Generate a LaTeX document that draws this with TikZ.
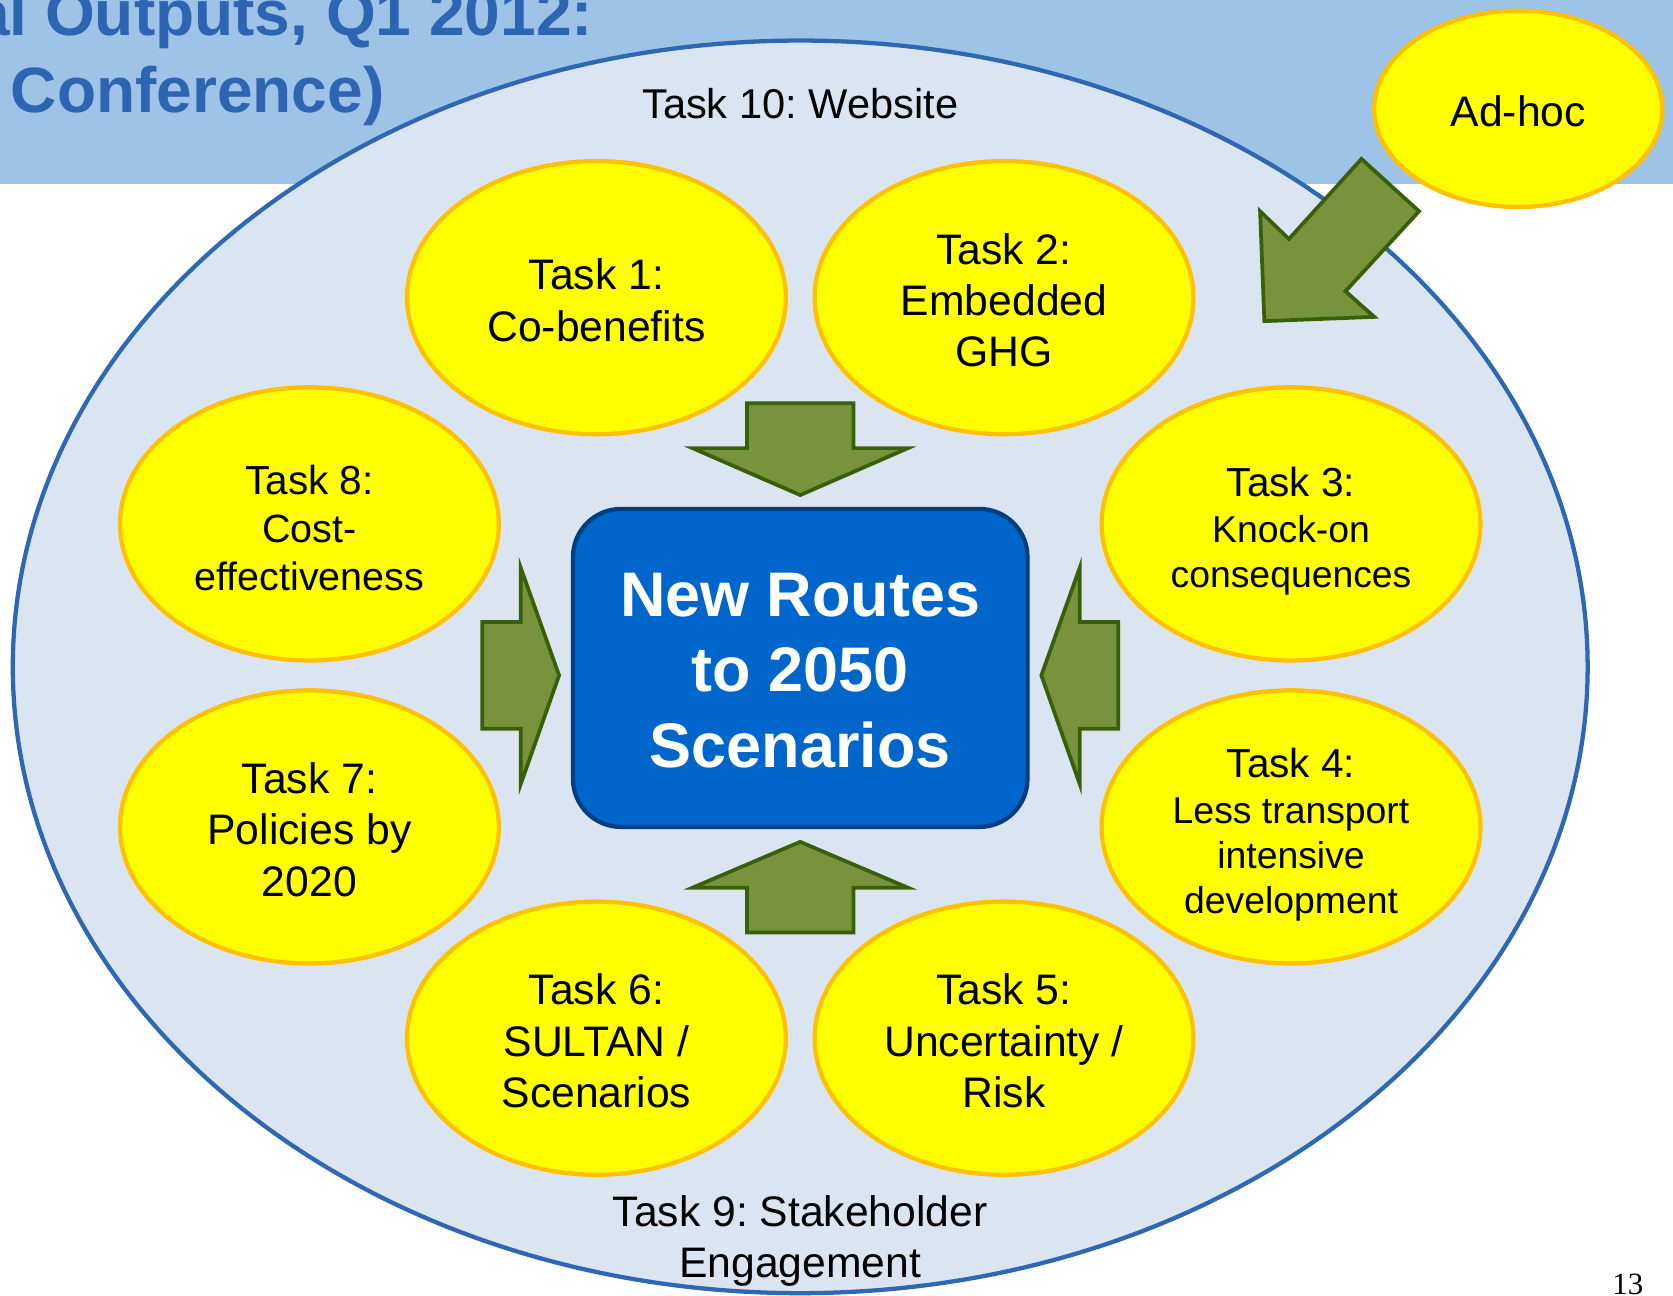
\documentclass[tikz,border=0pt]{standalone}
\usepackage{fontspec}
\setmainfont{Liberation Sans}
\newfontfamily\pagenumfont{Liberation Serif}
\usetikzlibrary{shapes.geometric}
\frenchspacing
\definecolor{bandblue}{RGB}{157,195,230}
\definecolor{titleblue}{RGB}{46,101,178}
\definecolor{outerfill}{RGB}{219,229,241}
\definecolor{outerline}{RGB}{46,103,178}
\definecolor{taskyellow}{RGB}{255,255,0}
\definecolor{taskorange}{RGB}{255,192,0}
\definecolor{arrowgreen}{RGB}{119,147,60}
\definecolor{arrowline}{RGB}{56,96,10}
\definecolor{boxblue}{RGB}{0,102,204}
\definecolor{boxline}{RGB}{0,62,128}
\begin{document}
\begin{tikzpicture}[x=1pt,y=-1pt,
  task/.style={ellipse, draw=taskorange, fill=taskyellow, line width=4pt,
    minimum width=355pt, minimum height=256pt, inner sep=0pt},
  tasklabel/.style={inner sep=0pt, align=center, yshift=-2.5pt,
    font=\fontsize{40}{48}\selectfont},
  blockarrow/.style={fill=arrowgreen, draw=arrowline, line width=3.5pt, line join=miter},
  titletext/.style={inner sep=0pt, text=titleblue, font=\fontsize{60}{72}\selectfont\bfseries},
  plaintext/.style={inner sep=0pt, align=center, font=\fontsize{39}{48}\selectfont}]
\useasboundingbox (0,0) rectangle (1568,1214);
\clip (0,0) rectangle (1568,1214);
% header band and title
\fill[bandblue] (0,0) rectangle (1568,172);
\node[titletext, anchor=base east] (title1) at (556,33) {al Outputs, Q1 2012:};
\node[titletext, anchor=base west] (title2) at (10,105) {Conference)};
% outer ellipse
\node[ellipse, draw=outerline, fill=outerfill, line width=4pt, inner sep=0pt,
  minimum width=1476pt, minimum height=1174pt] (outer) at (750,625) {};
\node[plaintext, anchor=base] (t10) at (750,111) {Task 10: Website};
\node[plaintext, font=\fontsize{40}{48}\selectfont] (t9) at (750,1163) {Task 9: Stakeholder\\Engagement};
% task ellipses
\node[task] (t1) at (559,279) {};
\node[tasklabel] (t1text) at (t1) {Task 1:\\Co-benefits};
\node[task] (t2) at (941,279) {};
\node[tasklabel] (t2text) at (t2) {Task 2:\\Embedded\\GHG};
\node[task] (t8) at (290,491) {};
\node[tasklabel, yshift=-1pt, font=\fontsize{37}{45}\selectfont] (t8text) at (t8) {{\fontsize{38}{45}\selectfont Task 8:}\\Cost-\\effectiveness};
\node[task] (t3) at (1210,491) {};
\node[tasklabel, yshift=-4.5pt, font=\fontsize{35}{42.5}\selectfont] (t3text) at (t3) {{\fontsize{38}{44}\selectfont Task 3:}\\Knock-on\\consequences};
\node[task] (t7) at (290,775) {};
\node[tasklabel] (t7text) at (t7) {Task 7:\\Policies by\\2020};
\node[task] (t4) at (1210,775) {};
\node[tasklabel, yshift=-5pt, font=\fontsize{35}{42.5}\selectfont] (t4text) at (t4) {{\fontsize{38}{44}\selectfont Task 4:}\\Less transport\\intensive\\development};
\node[task] (t6) at (559,973) {};
\node[tasklabel] (t6text) at (t6) {Task 6:\\SULTAN /\\Scenarios};
\node[task] (t5) at (941,973) {};
\node[tasklabel] (t5text) at (t5) {Task 5:\\Uncertainty /\\Risk};
% block arrows towards the centre
\draw[blockarrow] (700,378) -- (800,378) -- (800,420) -- (851,420) -- (750,464) -- (649,420) -- (700,420) -- cycle;
\draw[blockarrow] (700,874) -- (800,874) -- (800,832) -- (851,832) -- (750,789) -- (649,832) -- (700,832) -- cycle;
\draw[blockarrow] (452,583) -- (488,583) -- (488,532) -- (524,633) -- (488,735) -- (488,683) -- (452,683) -- cycle;
\draw[blockarrow] (1048,583) -- (1012,583) -- (1012,532) -- (976,633) -- (1012,735) -- (1012,683) -- (1048,683) -- cycle;
% central box
\node[draw=boxline, fill=boxblue, line width=4pt, rounded corners=45pt,
  minimum width=426pt, minimum height=298pt, inner sep=0pt, align=center,
  text=white, font=\fontsize{59}{71}\selectfont\bfseries] (box) at (750,626) {};
\node[inner sep=0pt, align=center, yshift=-2.5pt, text=white,
  font=\fontsize{59}{71}\selectfont\bfseries] (boxtext) at (box) {New Routes\\to 2050\\Scenarios};
% ad-hoc
\node[task, minimum width=270pt, minimum height=184pt] (adhoc) at (1423,102) {};
\node[tasklabel, yshift=0pt] (adhoctext) at (adhoc) {Ad-hoc};
\draw[blockarrow] (1276,149) -- (1330,198) -- (1261,273) -- (1288,297) -- (1185,301) -- (1181,198) -- (1208,224) -- cycle;
% page number
\node[anchor=base west, inner sep=0pt, font=\pagenumfont\fontsize{29}{29}\selectfont] (pnum) at (1511,1213) {13};
\end{tikzpicture}
\end{document}
